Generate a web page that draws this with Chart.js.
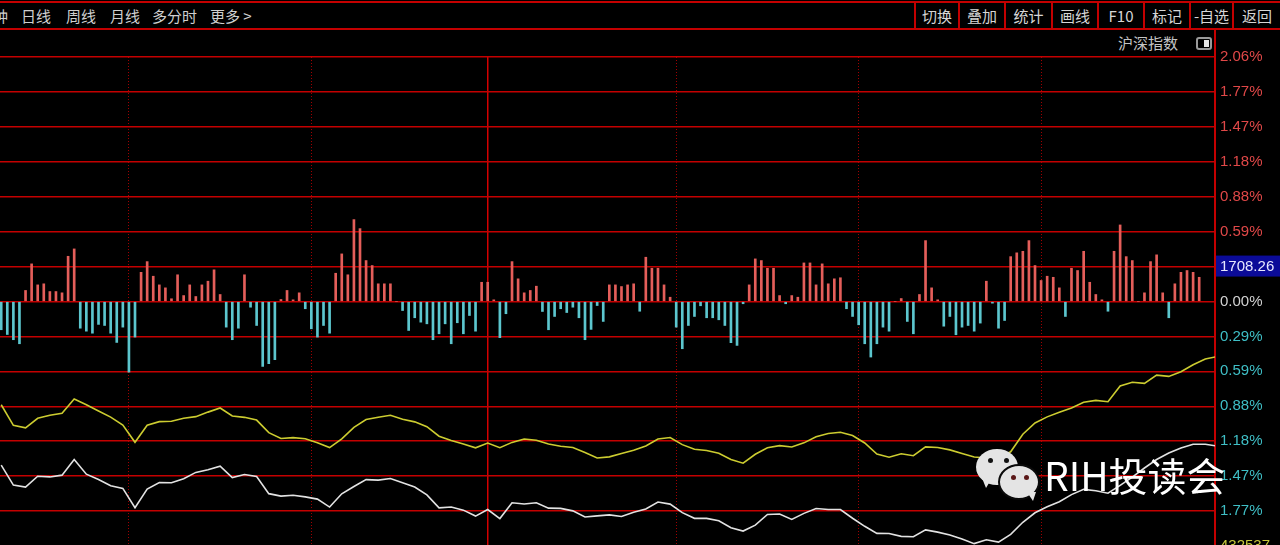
<!DOCTYPE html>
<html lang="zh-CN">
<head>
<meta charset="utf-8">
<title>沪深指数 分时</title>
<script src="https://cdn.jsdelivr.net/npm/chart.js@4.4.1/dist/chart.umd.min.js"></script>
<style>
  html, body { margin: 0; padding: 0; background: #000; }
  body {
    width: 1280px; height: 545px; overflow: hidden; position: relative;
    font-family: "Noto Sans CJK SC", "Noto Sans", sans-serif;
  }
  .rule { position: absolute; left: 0; width: 1280px; height: 2px; background: #c40000; }
  .nav { position: absolute; top: 5px; font-size: 15px; line-height: 22px; color: #cfcfcf; white-space: nowrap; }
  .btn {
    position: absolute; top: 2px; height: 27px; line-height: 27px;
    border-left: 2px solid #c40000; box-sizing: border-box;
    color: #d6d6d6; font-size: 15px; text-align: center;
  }
  .vline { position: absolute; left: 1214px; top: 29px; width: 2px; height: 30px; background: #c40000; }
  .title { position: absolute; left: 1118px; top: 32px; font-size: 15px; line-height: 22px; color: #c4c4c4; }
  .icon {
    position: absolute; left: 1196px; top: 37px; width: 12px; height: 9px;
    border: 2px solid #9a9a9a; border-radius: 3px;
  }
  .icon::after { content: ""; position: absolute; right: 1px; top: 1px; width: 5px; height: 7px; background: #e8e8e8; }
  #chart { position: absolute; left: 0; top: 40px; }
  .wm { position: absolute; left: 0; top: 0; z-index: 5; }
  .bub { position: absolute; background: #e4e4e4; border-radius: 50%; }
  .bub i { position: absolute; top: 9px; width: 5px; height: 5px; border-radius: 50%; background: #111; }
  .b1 { left: 976px; top: 449px; width: 42px; height: 36px; }
  .b1::after { content: ""; position: absolute; left: 6px; top: 29px; border-left: 4px solid transparent; border-right: 6px solid transparent; border-top: 10px solid #e4e4e4; }
  .b2 { left: 998px; top: 464px; width: 38px; height: 32px; border: 2px solid #0a0a0a; }
  .b2::after { content: ""; position: absolute; left: 27px; top: 26px; border-left: 6px solid transparent; border-right: 3px solid transparent; border-top: 9px solid #e4e4e4; }
  .b2 i { background: #5a1818; }
  .wm-text { position: absolute; left: 1044px; top: 454px; font-size: 39px; line-height: 40px; color: #fff; white-space: nowrap; }
</style>
</head>
<body>
<div class="rule" style="top:1px"></div>
<div class="rule" style="top:28px"></div>

<span class="nav" style="left:-7px">钟</span>
<span class="nav" style="left:21px">日线</span>
<span class="nav" style="left:66px">周线</span>
<span class="nav" style="left:110px">月线</span>
<span class="nav" style="left:152px">多分时</span>
<span class="nav" style="left:210px">更多 &gt;</span>

<div class="btn" style="left:914px;width:44px">切换</div>
<div class="btn" style="left:958px;width:46px">叠加</div>
<div class="btn" style="left:1004px;width:47px">统计</div>
<div class="btn" style="left:1051px;width:46px">画线</div>
<div class="btn" style="left:1097px;width:46px">F10</div>
<div class="btn" style="left:1143px;width:46px">标记</div>
<div class="btn" style="left:1189px;width:43px">-自选</div>
<div class="btn" style="left:1232px;width:48px">返回</div>

<div class="vline"></div>
<span class="title">沪深指数</span>
<div class="icon"></div>

<canvas id="chart" width="1280" height="530"></canvas>

<div class="wm">
  <div class="bub b1"><i style="left:12px"></i><i style="left:28px"></i></div>
  <div class="bub b2"><i style="left:11px"></i><i style="left:24px"></i></div>
  <span class="wm-text">RIH投读会</span>
</div>

<script>
/* ---------- Data (percent change, one bar per minute) ---------- */
const barValues = [
  -0.238, -0.278, -0.322, -0.356, 0.093, 0.317, 0.140, 0.149, 0.084, 0.084,
  0.073, 0.381, 0.443, -0.225, -0.250, -0.267, -0.193, -0.202, -0.267, -0.345,
  -0.216, -0.595, -0.300, 0.246, 0.336, 0.213, 0.140, 0.115, 0.023, 0.225,
  0.050, 0.140, 0.042, 0.140, 0.171, 0.267, 0.059, -0.216, -0.322, -0.225,
  0.225, -0.048, -0.202, -0.547, -0.524, -0.490, 0.017, 0.093, 0.014, 0.073,
  -0.061, -0.230, -0.300, -0.202, -0.267, 0.238, 0.401, 0.225, 0.690, 0.614,
  0.345, 0.303, 0.149, 0.149, 0.149, 0, -0.076, -0.244, -0.137, -0.174,
  -0.188, -0.322, -0.272, -0.188, -0.356, -0.179, -0.272, -0.118, -0.250, 0.162,
  0.162, 0.014, -0.305, -0.103, 0.336, 0.191, 0.073, 0.093, 0.129, -0.084,
  -0.238, -0.126, -0.061, -0.093, -0.048, -0.137, -0.322, -0.235, -0.034, -0.168,
  0.140, 0.140, 0.126, 0.140, 0.149, -0.082, 0.373, 0.280, 0.280, 0.140,
  0.036, -0.216, -0.398, -0.202, -0.126, -0.036, -0.137, -0.137, -0.154, -0.202,
  -0.347, -0.370, -0.019, 0.140, 0.359, 0.345, 0.280, 0.280, 0.050, -0.019,
  0.050, 0.036, 0.325, 0.325, 0.140, 0.317, 0.149, 0.191, 0.200, -0.061,
  -0.126, -0.196, -0.356, -0.468, -0.356, -0.216, -0.250, 0, 0.025, -0.168,
  -0.272, 0.059, 0.513, 0.115, 0.014, -0.208, -0.126, -0.280, -0.216, -0.202,
  -0.250, -0.182, 0.171, -0.014, -0.225, -0.160, 0.378, 0.410, 0.423, 0.513,
  0.303, 0.177, 0.213, 0.204, 0.115, -0.126, 0.280, 0.261, 0.423, 0.162,
  0.059, 0.014, -0.082, 0.423, 0.645, 0.378, 0.345, 0, 0.073, 0.336,
  0.393, 0.073, -0.137, 0.149, 0.246, 0.261, 0.246, 0.204
];

// lines are read every LINE_STEP minutes
const LINE_STEP = 2;

const yellowLine = [
  -0.870, -1.043, -1.064, -0.984, -0.959, -0.942, -0.822, -0.870, -0.923, -0.974,
  -1.041, -1.186, -1.043, -1.012, -1.009, -0.984, -0.970, -0.932, -0.897, -0.965,
  -0.976, -0.999, -1.105, -1.154, -1.147, -1.156, -1.190, -1.231, -1.158, -1.060,
  -0.994, -0.975, -0.959, -0.992, -1.014, -1.055, -1.135, -1.171, -1.200, -1.233,
  -1.193, -1.232, -1.187, -1.158, -1.169, -1.200, -1.219, -1.230, -1.273, -1.318,
  -1.309, -1.280, -1.253, -1.217, -1.158, -1.146, -1.206, -1.245, -1.256, -1.278,
  -1.331, -1.362, -1.287, -1.232, -1.214, -1.226, -1.191, -1.140, -1.112, -1.102,
  -1.129, -1.192, -1.285, -1.312, -1.283, -1.299, -1.225, -1.230, -1.250, -1.281,
  -1.310, -1.318, -1.320, -1.266, -1.118, -1.023, -0.972, -0.934, -0.898, -0.849,
  -0.833, -0.844, -0.712, -0.681, -0.690, -0.620, -0.631, -0.592, -0.533, -0.485,
  -0.463
];

const whiteLine = [
  -1.379, -1.547, -1.564, -1.472, -1.478, -1.463, -1.331, -1.455, -1.500, -1.552,
  -1.575, -1.737, -1.581, -1.525, -1.527, -1.493, -1.440, -1.417, -1.388, -1.484,
  -1.458, -1.475, -1.619, -1.640, -1.632, -1.646, -1.665, -1.732, -1.620, -1.559,
  -1.501, -1.505, -1.491, -1.527, -1.563, -1.629, -1.739, -1.732, -1.758, -1.808,
  -1.753, -1.829, -1.696, -1.706, -1.696, -1.741, -1.743, -1.764, -1.816, -1.806,
  -1.798, -1.811, -1.775, -1.748, -1.690, -1.707, -1.779, -1.827, -1.827, -1.848,
  -1.906, -1.934, -1.884, -1.794, -1.791, -1.836, -1.785, -1.744, -1.752, -1.753,
  -1.826, -1.894, -1.954, -1.955, -1.979, -1.982, -1.924, -1.943, -1.967, -2.002,
  -2.040, -2.008, -2.027, -1.962, -1.860, -1.780, -1.730, -1.687, -1.627, -1.583,
  -1.594, -1.615, -1.549, -1.480, -1.403, -1.331, -1.277, -1.234, -1.203, -1.203,
  -1.219
];

/* ---------- Axis marks ---------- */
// half-hour marks (minute index); index 2 is the midday break
const timeMarks = [21, 51, 80, 111, 141, 171];
const MIDDAY = 2;

const Y_MAX = 2.06;
const yTickLabels = [
  "2.06%", "1.77%", "1.47%", "1.18%", "0.88%", "0.59%", "1708.26",
  "0.00%",
  "0.29%", "0.59%", "0.88%", "1.18%", "1.47%", "1.77%", "432537"
];
const yTickColors = [
  "#e04848", "#e04848", "#e04848", "#e04848", "#e04848", "#e04848", "#e8e8ff",
  "#d2d2d2",
  "#3fbfc6", "#3fbfc6", "#3fbfc6", "#3fbfc6", "#3fbfc6", "#3fbfc6", "#c8c83c"
];
const PRICE_TICK = 6;
const yStep = Y_MAX / 7;
const yTickValues = yTickLabels.map((_, i) => Y_MAX - i * yStep);

/* ---------- Chart ---------- */
const RED = "#c40000";

new Chart(document.getElementById("chart"), {
  type: "bar",
  data: {
    datasets: [
      {
        type: "line",
        label: "均价",
        data: yellowLine.map((v, i) => ({ x: i * LINE_STEP, y: v })),
        borderColor: "#cccc30",
        borderWidth: 1.6,
        pointRadius: 0,
        tension: 0,
      },
      {
        type: "line",
        label: "指数",
        data: whiteLine.map((v, i) => ({ x: i * LINE_STEP, y: v })),
        borderColor: "#e2e2e2",
        borderWidth: 1.6,
        pointRadius: 0,
        tension: 0,
      },
      {
        type: "bar",
        label: "涨跌",
        data: barValues.map((v, i) => ({ x: i, y: v })),
        backgroundColor: (c) => (c.raw && c.raw.y >= 0 ? "#e45e5a" : "#5cc6ce"),
        barThickness: 2,
        borderWidth: 0,
      },
    ],
  },
  options: {
    responsive: false,
    animation: false,
    events: [],
    layout: { padding: { top: 17, bottom: 24, left: 0, right: 0 } },
    plugins: { legend: { display: false }, tooltip: { enabled: false } },
    scales: {
      x: {
        type: "linear",
        min: -0.2,
        max: 199.6,
        offset: false,
        afterBuildTicks: (s) => { s.ticks = timeMarks.map((v) => ({ value: v })); },
        ticks: { display: false },
        grid: {
          offset: false,
          drawTicks: false,
          color: (c) => (c.index === MIDDAY ? "#d40000" : "#a00000"),
          lineWidth: (c) => (c.index === MIDDAY ? 1.5 : 1),
        },
        border: { display: false, dash: (c) => (c.index === MIDDAY ? [] : [1, 2]) },
      },
      y: {
        position: "right",
        min: -Y_MAX,
        max: Y_MAX,
        afterBuildTicks: (s) => { s.ticks = yTickValues.map((v) => ({ value: v })); },
        afterFit: (s) => { s.width = 65; },
        grid: { color: RED, lineWidth: 1.5, drawTicks: false },
        border: { display: true, color: RED, width: 2 },
        ticks: {
          autoSkip: false,
          padding: 5,
          font: { family: "'Liberation Sans', Arial, sans-serif", size: 15 },
          color: (c) => yTickColors[c.index],
          callback: (v, i) => yTickLabels[i],
          showLabelBackdrop: (c) => c.index === PRICE_TICK,
          backdropColor: "#0b0b98",
          backdropPadding: { top: 2, bottom: 1, left: 4, right: 8 },
        },
      },
    },
  },
});
</script>
</body>
</html>
